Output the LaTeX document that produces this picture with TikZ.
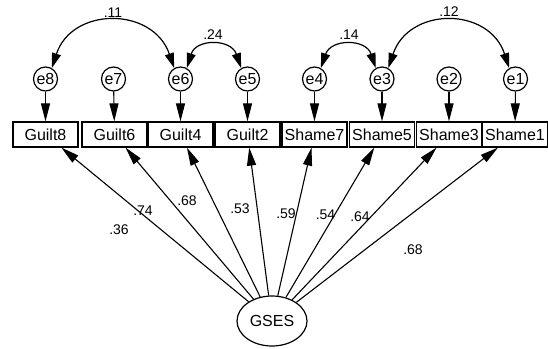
\documentclass[tikz,border=0pt]{standalone}
\usepackage{fontspec}
\setmainfont{Liberation Sans}
\usetikzlibrary{shapes.geometric,arrows.meta}
\begin{document}
\begin{tikzpicture}[x=1pt,y=-1pt,
  obs/.style={draw,line width=1.2pt,minimum width=65pt,minimum height=25pt,inner sep=0pt,font=\fontsize{16}{19}\selectfont},
  err/.style={draw,circle,line width=1.2pt,minimum size=24pt,inner sep=0pt,font=\fontsize{16}{19}\selectfont},
  lat/.style={draw,ellipse,line width=1.2pt,minimum width=70pt,minimum height=50pt,inner sep=0pt,font=\fontsize{16}{19}\selectfont},
  lab/.style={font=\fontsize{14}{17}\selectfont,inner sep=0pt},
  arr/.style={line width=1.1pt,-{Triangle[length=18pt,width=9pt]}},
  cov/.style={line width=1.2pt,{Triangle[length=15pt,width=9pt]}-{Triangle[length=15pt,width=9pt]}}]
\useasboundingbox (0,0) rectangle (548,348);
% observed
\node[obs] (g8) at (45.5,134.5) {Guilt8};
\node[obs] (g6) at (114.5,134.5) {Guilt6};
\node[obs] (g4) at (180.5,134.5) {Guilt4};
\node[obs] (g2) at (247.5,134.5) {Guilt2};
\node[obs] (s7) at (314.5,134.5) {Shame7};
\node[obs] (s5) at (382,134.5) {Shame5};
\node[obs] (s3) at (449,134.5) {Shame3};
\node[obs] (s1) at (515,134.5) {Shame1};
% errors
\node[err] (e8) at (45.5,79) {e8};
\node[err] (e7) at (113.5,79) {e7};
\node[err] (e6) at (180.5,79) {e6};
\node[err] (e5) at (247.5,79) {e5};
\node[err] (e4) at (314.5,79) {e4};
\node[err] (e3) at (382,79) {e3};
\node[err] (e2) at (449,79) {e2};
\node[err] (e1) at (515.5,79) {e1};
\foreach \e/\o in {e8/g8,e7/g6,e6/g4,e5/g2,e4/s7,e3/s5,e2/s3,e1/s1}
  \draw[arr] (\e) -- (\o);
% latent
\node[lat] (gses) at (272,321) {GSES};
\foreach \o in {g8,g6,g4,g2,s7,s5,s3,s1}
  \draw[arr] (gses) -- (\o);
% loadings
\node[lab] at (119,230) {.36};
\node[lab] at (143,210.5) {.74};
\node[lab] at (187,200.5) {.68};
\node[lab] at (240,209) {.53};
\node[lab] at (286,214) {.59};
\node[lab] at (325.5,215) {.54};
\node[lab] at (360,217) {.64};
\node[lab] at (413,250) {.68};
% covariances
\draw[cov] (e8.60) .. controls (72,6.5) and (153,6.5) .. (e6.120);
\draw[cov] (e6.60) .. controls (196,38.5) and (231,38.5) .. (e5.120);
\draw[cov] (e4.60) .. controls (331,38.5) and (366,38.5) .. (e3.120);
\draw[cov] (e3.60) .. controls (409,6.5) and (489,6.5) .. (e1.120);
\node[lab] at (113,13) {.11};
\node[lab] at (213,35) {.24};
\node[lab] at (349,35) {.14};
\node[lab] at (449,12) {.12};
\end{tikzpicture}
\end{document}
